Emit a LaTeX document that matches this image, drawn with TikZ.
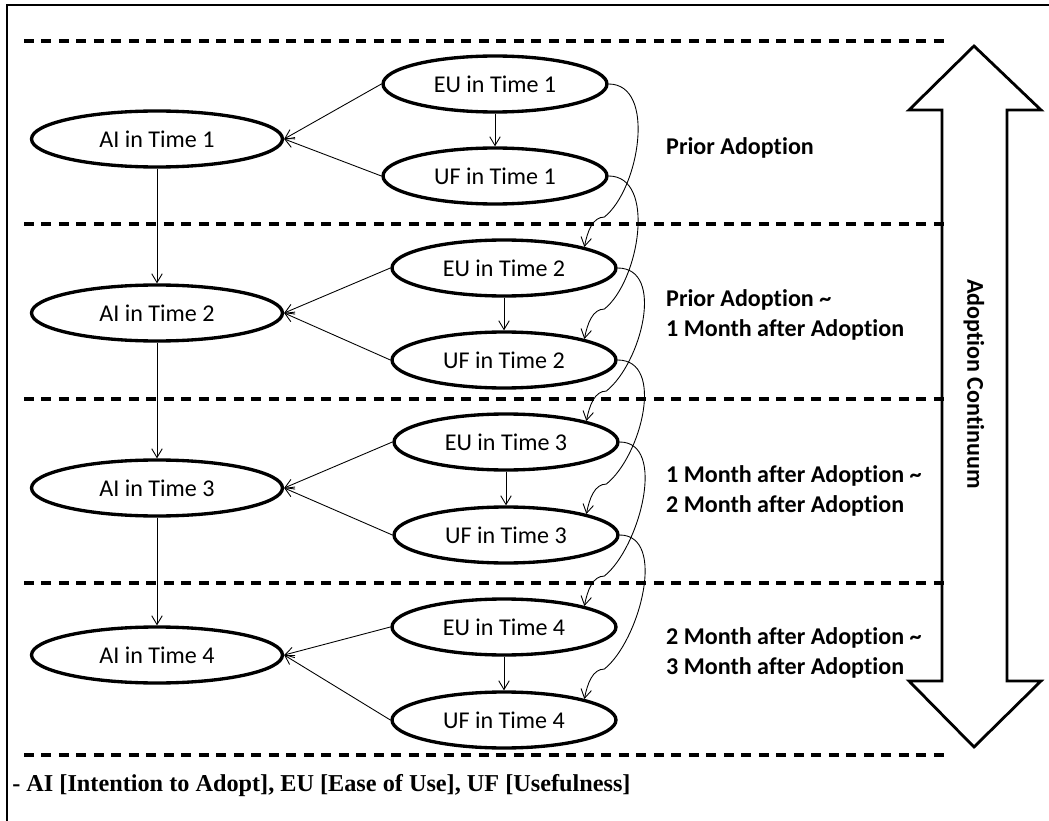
\documentclass[tikz,border=0pt]{standalone}
\usepackage{fontspec}
\setmainfont{Liberation Serif}
\setsansfont{Carlito}[Ligatures=NoCommon]
\usetikzlibrary{arrows.meta,shapes.geometric,calc}

\begin{document}
\begin{tikzpicture}[x=0.02cm,y=-0.02cm,
    state/.style={draw,ellipse,line width=1.9pt,minimum width=4.48cm,minimum height=1.12cm,
        inner sep=0pt,font=\sffamily\fontsize{13.7}{16}\selectfont},
    intent/.style={state,minimum width=5.02cm},
    link/.style={line width=0.5pt,-{Straight Barb[length=5pt,width=6pt]}},
    divider/.style={line width=1.9pt,dash pattern=on 0.2cm off 0.15cm},
    phase/.style={anchor=west,align=left,font=\sffamily\bfseries\fontsize{13.7}{17}\selectfont}]

    \useasboundingbox (0,0) rectangle (1049,821);

    % Draw the frame and the period dividers
    \draw[line width=1.6pt] (7,821) -- (7,5) -- (1049,5);
    \draw[divider] (24,41) -- (946,41);
    \draw[divider] (24,224) -- (946,224);
    \draw[divider] (24,399) -- (946,399);
    \draw[divider] (24,583) -- (946,583);
    \draw[divider] (24,755) -- (946,755);

    % Draw the constructs
    \node[intent] (ai1) at (157,139) {AI in Time 1};
    \node[intent] (ai2) at (157,313) {AI in Time 2};
    \node[intent] (ai3) at (157,488) {AI in Time 3};
    \node[intent] (ai4) at (157,655) {AI in Time 4};
    \node[state] (eu1) at (495,84) {EU in Time 1};
    \node[state] (uf1) at (495,176) {UF in Time 1};
    \node[state] (eu2) at (504,268) {EU in Time 2};
    \node[state] (uf2) at (504,360) {UF in Time 2};
    \node[state] (eu3) at (506,442) {EU in Time 3};
    \node[state] (uf3) at (506,535) {UF in Time 3};
    \node[state] (eu4) at (504,627) {EU in Time 4};
    \node[state] (uf4) at (504,720) {UF in Time 4};

    % Draw the paths within each time
    \draw[link] (eu1.west) -- (ai1.east);
    \draw[link] (uf1.west) -- (ai1.east);
    \draw[link] (eu1.south) -- (uf1.north);
    \draw[link] (eu2.west) -- (ai2.east);
    \draw[link] (uf2.west) -- (ai2.east);
    \draw[link] (eu2.south) -- (uf2.north);
    \draw[link] (eu3.west) -- (ai3.east);
    \draw[link] (uf3.west) -- (ai3.east);
    \draw[link] (eu3.south) -- (uf3.north);
    \draw[link] (eu4.west) -- (ai4.east);
    \draw[link] (uf4.west) -- (ai4.east);
    \draw[link] (eu4.south) -- (uf4.north);

    % Draw the paths from one time to the next
    \draw[link] (ai1.south) -- (ai2.north);
    \draw[link] (ai2.south) -- (ai3.north);
    \draw[link] (ai3.south) -- (ai4.north);
    \draw[link] (eu1.east) .. controls +(48,0) and +(35,-28) .. ($(eu2.north east)+(20,-30)$)
        .. controls +(-12,0) and +(3,-15) .. (eu2.north east);
    \draw[link] (uf1.east) .. controls +(48,0) and +(35,-28) .. ($(uf2.north east)+(20,-30)$)
        .. controls +(-12,0) and +(3,-15) .. (uf2.north east);
    \draw[link] (eu2.east) .. controls +(48,0) and +(35,-28) .. ($(eu3.north east)+(20,-30)$)
        .. controls +(-12,0) and +(3,-15) .. (eu3.north east);
    \draw[link] (uf2.east) .. controls +(48,0) and +(35,-28) .. ($(uf3.north east)+(20,-30)$)
        .. controls +(-12,0) and +(3,-15) .. (uf3.north east);
    \draw[link] (eu3.east) .. controls +(48,0) and +(35,-28) .. ($(eu4.north east)+(20,-30)$)
        .. controls +(-12,0) and +(3,-15) .. (eu4.north east);
    \draw[link] (uf3.east) .. controls +(48,0) and +(35,-28) .. ($(uf4.north east)+(20,-30)$)
        .. controls +(-12,0) and +(3,-15) .. (uf4.north east);

    % Label the periods
    \node[phase] (p1) at (660,148) {Prior Adoption};
    \node[phase] (p2) at (660,315) {Prior Adoption \textasciitilde\\1 Month after Adoption};
    \node[phase] (p3) at (660,491) {1 Month after Adoption \textasciitilde\\2 Month after Adoption};
    \node[phase] (p4) at (660,653) {2 Month after Adoption \textasciitilde\\3 Month after Adoption};

    % Draw the continuum arrow
    \draw[line width=1.6pt,line join=miter] (974,46) -- (1041,110) -- (1007,110) -- (1007,681)
        -- (1041,681) -- (974,747) -- (909,681) -- (942,681) -- (942,110) -- (909,110) -- cycle;
    \node[rotate=-90,font=\sffamily\bfseries\fontsize{13.7}{16}\selectfont] (cont) at (974,384) {Adoption Continuum};

    % Legend
    \node[anchor=west,inner sep=0pt,font=\bfseries\fontsize{13.8}{16}\selectfont] (key) at (12,786)
        {- AI [Intention to Adopt], EU [Ease of Use], UF [Usefulness]};

\end{tikzpicture}
\end{document}
